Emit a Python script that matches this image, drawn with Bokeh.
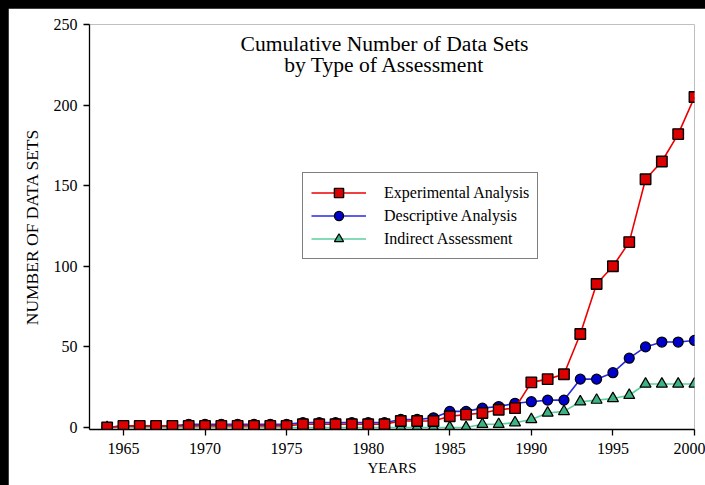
from bokeh.plotting import figure
from bokeh.models import Range1d, Legend, LegendItem, Label, FixedTicker, GlobalInlineStyleSheet
from bokeh.embed import file_html
from bokeh.resources import INLINE

# ---- data ----
years = list(range(1964, 2001))
experimental = [0, 1, 1, 1, 1, 1, 1, 1, 1, 1, 1, 1, 2, 2, 2, 2, 2, 2, 4, 4, 4,
                7, 8, 9, 11, 12, 28, 30, 33, 58, 89, 100, 115, 154, 165, 182, 205]
descriptive = [0, 1, 1, 1, 1, 2, 2, 2, 2, 2, 2, 2, 3, 3, 3, 3, 3, 3, 5, 5, 6,
               10, 10, 12, 13, 15, 16, 17, 17, 30, 30, 34, 43, 50, 53, 53, 54]
indirect = [0, 0, 0, 0, 0, 0, 0, 0, 0, 0, 0, 0, 0, 0, 0, 0, 0, 0, 0, 0, 0,
            0, 0, 2, 2, 3, 5, 9, 10, 16, 17, 18, 20, 27, 27, 27, 27]
series_names = ["Experimental Analysis", "Descriptive Analysis", "Indirect Assessment"]
x_ticks = [1965, 1970, 1975, 1980, 1985, 1990, 1995, 2000]
y_ticks = [0, 50, 100, 150, 200, 250]
title_lines = ["Cumulative Number of Data Sets", "by Type of Assessment"]

FONT = "Liberation Serif"

p = figure(width=697, height=477, output_backend="svg", toolbar_location=None,
           x_range=Range1d(1962.92, 2000), y_range=Range1d(-1.24, 250),
           min_border_left=81, min_border_right=11, min_border_top=16, min_border_bottom=56)
p.stylesheets = [GlobalInlineStyleSheet(
    css="html { background: #000; overflow: hidden; } "
        "body { background: #000; margin: 0; padding: 8px 0 0 8px; box-sizing: border-box; overflow: visible; }")]
p.outline_line_color = None
p.xgrid.grid_line_color = None
p.ygrid.grid_line_color = None
p.background_fill_color = "white"
p.border_fill_color = "white"

for ax in (p.xaxis[0], p.yaxis[0]):
    ax.axis_line_color = "black"
    ax.axis_line_width = 1.3
    ax.major_tick_line_color = "black"
    ax.major_tick_line_width = 1.3
    ax.major_tick_in = 0
    ax.major_tick_out = 6
    ax.minor_tick_in = 0
    ax.minor_tick_out = 0
    ax.major_label_text_font = FONT
    ax.major_label_text_font_size = "16px"
    ax.major_label_text_color = "black"
    ax.axis_label_text_font = FONT
    ax.axis_label_text_font_style = "normal"
    ax.axis_label_text_color = "black"

p.xaxis.ticker = FixedTicker(ticks=x_ticks)
p.yaxis.ticker = FixedTicker(ticks=y_ticks)
p.xaxis.axis_label = "YEARS"
p.yaxis.axis_label = "NUMBER OF DATA SETS"
p.xaxis.axis_label_text_font_size = "15px"
p.yaxis.axis_label_text_font_size = "17.5px"
p.xaxis.major_label_standoff = 7
p.yaxis.major_label_standoff = 6
p.xaxis.axis_label_standoff = 3
p.yaxis.axis_label_standoff = 9

# draw order: green, blue, red (red on top)
g_line = p.line(years, indirect, line_color="#5ccf9e", line_width=1.6)
g_pts = p.scatter(years, indirect, marker="triangle", size=11, fill_color="#3db383",
                  line_color="black", line_width=1.2)
b_line = p.line(years, descriptive, line_color="#2828e0", line_width=1.6)
b_pts = p.scatter(years, descriptive, marker="circle", size=10, fill_color="#0000cc",
                  line_color="black", line_width=1.2)
r_line = p.line(years, experimental, line_color="#ee0000", line_width=1.6)
r_pts = p.scatter(years, experimental, marker="square", size=10.5, fill_color="#dd0000",
                  line_color="black", line_width=1.4)

legend = Legend(items=[
    LegendItem(label=series_names[0], renderers=[r_line, r_pts]),
    LegendItem(label=series_names[1], renderers=[b_line, b_pts]),
    LegendItem(label=series_names[2], renderers=[g_line, g_pts]),
], location=(213, 170))
legend.margin = 0
legend.padding = 8
legend.spacing = 0
legend.glyph_width = 55
legend.glyph_height = 23
legend.label_height = 23
legend.label_standoff = 18
legend.label_text_font = FONT
legend.label_text_font_size = "16px"
legend.label_text_color = "black"
legend.border_line_color = "black"
legend.border_line_width = 1
legend.background_fill_color = "white"
legend.background_fill_alpha = 1
p.add_layout(legend)

for txt, yv in zip(title_lines, [237.9, 224.6]):
    p.add_layout(Label(x=1981.0, y=yv, text=txt, text_align="center",
                       text_baseline="alphabetic", text_font=FONT,
                       text_font_size="21.6px", text_color="black"))

open("out.html", "w").write(file_html(p, INLINE))
